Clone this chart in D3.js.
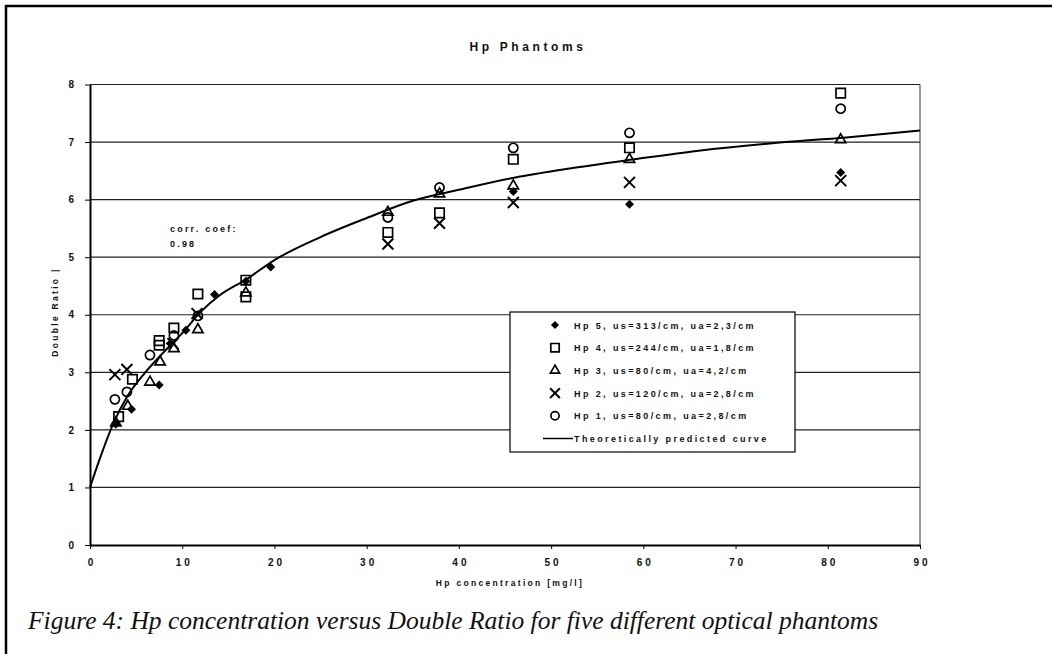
<!DOCTYPE html>
<html>
<head>
<meta charset="utf-8">
<script src="https://cdn.jsdelivr.net/npm/d3@7"></script>
<style>
  body { margin: 0; background: #fff; }
  text { font-family: "Liberation Sans", Arial, sans-serif; font-weight: bold; fill: #111; }
  .tick line { stroke: #000; }
</style>
</head>
<body>
<div id="container"></div>
<script>
var w = 1052,
  h = 654;

// measured points, [Hp concentration mg/l, double ratio]
var hp5 = [[2.8, 2.10], [4.5, 2.36], [7.5, 2.78], [8.7, 3.50], [10.4, 3.73], [13.5, 4.35],
  [16.9, 4.58], [19.6, 4.83], [45.9, 6.14], [58.5, 5.92], [81.4, 6.47]];
var hp4 = [[3.1, 2.23], [4.6, 2.88], [7.5, 3.55], [7.5, 3.47], [9.1, 3.77], [11.7, 4.36],
  [16.9, 4.60], [16.9, 4.31], [32.3, 5.43], [37.9, 5.77], [45.9, 6.70], [58.5, 6.90], [81.4, 7.85]];
var hp3 = [[2.8, 2.12], [4.1, 2.41], [6.5, 2.83], [7.6, 3.18], [9.1, 3.41], [11.7, 3.74],
  [16.9, 4.38], [32.3, 5.78], [37.9, 6.10], [45.9, 6.24], [58.5, 6.70], [81.4, 7.04]];
var hp2 = [[2.7, 2.96], [4.0, 3.05], [9.0, 3.50], [11.6, 4.02], [32.3, 5.23], [37.9, 5.59],
  [45.9, 5.95], [58.5, 6.30], [81.4, 6.33]];
var hp1 = [[2.7, 2.53], [4.0, 2.66], [6.5, 3.30], [9.1, 3.64], [11.7, 3.98], [32.3, 5.69],
  [37.9, 6.21], [45.9, 6.90], [58.5, 7.16], [81.4, 7.58]];

// theoretically predicted curve
var curveX = [0, 1, 2.5, 4, 6, 8, 10, 12, 14, 17, 20, 25, 30, 35, 40, 46, 52, 59, 66, 74, 82, 90];
var curveY = [1.0, 1.47, 2.1, 2.57, 3.0, 3.35, 3.68, 4.05, 4.33, 4.62, 4.95, 5.35, 5.68, 5.98, 6.17, 6.38, 6.54, 6.70, 6.85, 6.98, 7.08, 7.2];

var xTicks = [0, 10, 20, 30, 40, 50, 60, 70, 80, 90];
var yTicks = [0, 1, 2, 3, 4, 5, 6, 7, 8];

var legendLabels = [
  "Hp 5, us=313/cm, ua=2,3/cm",
  "Hp 4, us=244/cm, ua=1,8/cm",
  "Hp 3, us=80/cm, ua=4,2/cm",
  "Hp 2, us=120/cm, ua=2,8/cm",
  "Hp 1, us=80/cm, ua=2,8/cm",
  "Theoretically predicted curve"
];

var series = [
  { data: hp5, type: d3.symbolDiamond2, size: 52, fill: "#000", stroke: "none", sw: 0 },
  { data: hp4, type: d3.symbolSquare, size: 88, fill: "none", stroke: "#000", sw: 1.7 },
  { data: hp3, type: d3.symbolTriangle, size: 46, fill: "none", stroke: "#000", sw: 1.7 },
  { data: hp2, type: d3.symbolX, size: 80, fill: "none", stroke: "#000", sw: 2 },
  { data: hp1, type: d3.symbolCircle, size: 66, fill: "none", stroke: "#000", sw: 1.7 }
];

var svg = d3.select("#container").append("svg")
  .attr("width", w)
  .attr("height", h);

// page frame
svg.append("path")
  .attr("d", "M6,654V6H1052")
  .attr("fill", "none")
  .attr("stroke", "#000")
  .attr("stroke-width", 2.5);

var xScale = d3.scaleLinear().domain([0, 90]).range([90, 920]);
var yScale = d3.scaleLinear().domain([0, 8]).range([545, 84.5]);

// gridlines
svg.append("g")
  .selectAll("line")
  .data(yTicks.slice(1))
  .enter()
  .append("line")
  .attr("x1", xScale(0))
  .attr("x2", xScale(90))
  .attr("y1", d => yScale(d))
  .attr("y2", d => yScale(d))
  .attr("stroke", "#222")
  .attr("stroke-width", 1.2);

svg.append("line")
  .attr("x1", xScale(90)).attr("x2", xScale(90))
  .attr("y1", yScale(8)).attr("y2", yScale(0))
  .attr("stroke", "#333")
  .attr("stroke-width", 1);

var xAxis = svg.append("g")
  .attr("transform", "translate(0," + yScale(0) + ")")
  .call(d3.axisBottom(xScale).tickValues(xTicks).tickSize(4).tickSizeOuter(0).tickPadding(10));
var yAxis = svg.append("g")
  .attr("transform", "translate(" + xScale(0) + ",0)")
  .call(d3.axisLeft(yScale).tickValues(yTicks).tickSize(5).tickSizeOuter(0).tickPadding(11));

[xAxis, yAxis].forEach(function (a) {
  a.select(".domain").attr("stroke", "#000").attr("stroke-width", 2);
  a.selectAll("text")
    .style("font-size", "10px")
    .style("font-family", "'Liberation Sans', Arial, sans-serif")
    .style("font-weight", "bold")
    .attr("fill", "#111");
});
xAxis.selectAll("text").style("letter-spacing", "3px").attr("dx", "1.5px");

// curve
var line = d3.line()
  .x(d => xScale(d[0]))
  .y(d => yScale(d[1]))
  .curve(d3.curveMonotoneX);

svg.append("path")
  .datum(curveX.map((x, i) => [x, curveY[i]]))
  .attr("d", line)
  .attr("fill", "none")
  .attr("stroke", "#000")
  .attr("stroke-width", 2);

// markers
series.forEach(function (s) {
  svg.append("g")
    .selectAll("path")
    .data(s.data)
    .enter()
    .append("path")
    .attr("transform", d => "translate(" + xScale(d[0]) + "," + yScale(d[1]) + ")")
    .attr("d", d3.symbol().type(s.type).size(s.size))
    .attr("fill", s.fill)
    .attr("stroke", s.stroke)
    .attr("stroke-width", s.sw);
});

// titles
svg.append("text")
  .attr("x", 528).attr("y", 51)
  .attr("text-anchor", "middle")
  .style("font-size", "12px")
  .style("letter-spacing", "3.6px")
  .text("Hp Phantoms");

svg.append("text")
  .attr("x", 510).attr("y", 586)
  .attr("text-anchor", "middle")
  .style("font-size", "8.5px")
  .style("letter-spacing", "2.3px")
  .text("Hp concentration [mg/l]");

svg.append("text")
  .attr("transform", "translate(58,312) rotate(-90)")
  .attr("text-anchor", "middle")
  .style("font-size", "8.5px")
  .style("letter-spacing", "2.3px")
  .text("Double Ratio |");

svg.append("text")
  .attr("x", 170).attr("y", 232)
  .style("font-size", "9px")
  .style("letter-spacing", "2.2px")
  .text("corr. coef:");
svg.append("text")
  .attr("x", 170).attr("y", 247)
  .style("font-size", "9px")
  .style("letter-spacing", "2.2px")
  .text("0.98");

// legend
var legend = svg.append("g").attr("transform", "translate(510,312)");
legend.append("rect")
  .attr("width", 285).attr("height", 140)
  .attr("fill", "#fff")
  .attr("stroke", "#000")
  .attr("stroke-width", 1.2);

var rowY = d3.scaleLinear().domain([0, 5]).range([13, 126.5]);

legendLabels.forEach(function (lab, i) {
  if (i < 5) {
    var s = series[i];
    legend.append("path")
      .attr("transform", "translate(45," + rowY(i) + ")")
      .attr("d", d3.symbol().type(s.type).size(s.size * 0.8))
      .attr("fill", s.fill)
      .attr("stroke", s.stroke)
      .attr("stroke-width", s.sw);
  } else {
    legend.append("line")
      .attr("x1", 33).attr("x2", 63)
      .attr("y1", rowY(i)).attr("y2", rowY(i))
      .attr("stroke", "#000").attr("stroke-width", 1.5);
  }
  legend.append("text")
    .attr("x", 64).attr("y", rowY(i) + 3.5)
    .style("font-size", "9px")
    .style("letter-spacing", "2.4px")
    .text(lab);
});

// caption
svg.append("text")
  .attr("x", 28).attr("y", 629)
  .style("font-family", "'Liberation Serif', 'Times New Roman', serif")
  .style("font-style", "italic")
  .style("font-weight", "normal")
  .style("font-size", "25.5px")
  .text("Figure 4: Hp concentration versus Double Ratio for five different optical phantoms");
</script>
</body>
</html>
